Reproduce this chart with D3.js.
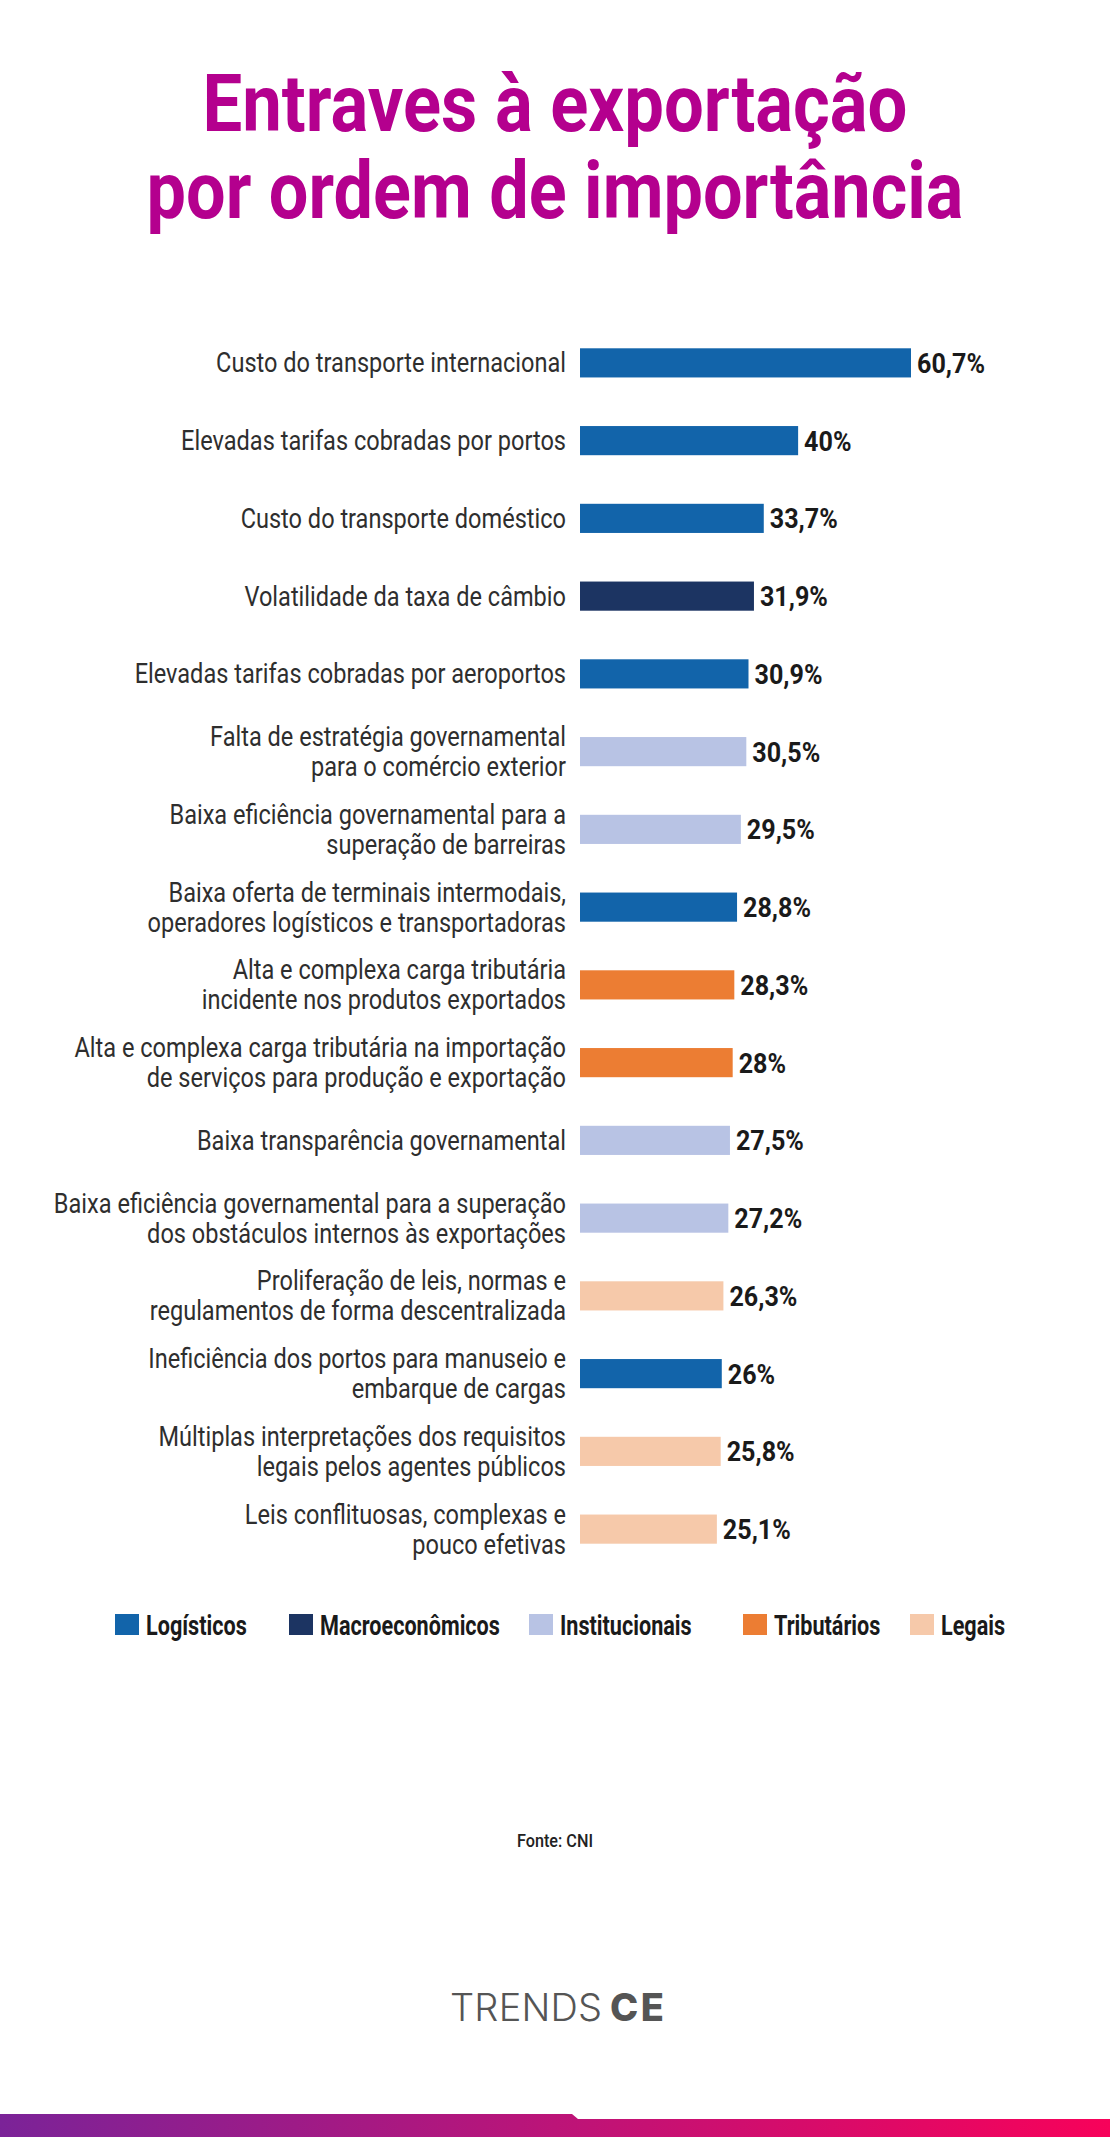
<!DOCTYPE html>
<html><head><meta charset="utf-8">
<script src="https://cdn.jsdelivr.net/npm/d3@7"></script>
<style>
html,body{margin:0;padding:0;background:#fff;}
svg{display:block;}
</style></head>
<body>
<svg id="chart" width="1110" height="2137"></svg>
<script>
// ---- data ----
const titleLines = ["Entraves à exportação", "por ordem de importância"];
const categories = [
  ["Custo do transporte internacional"],
  ["Elevadas tarifas cobradas por portos"],
  ["Custo do transporte doméstico"],
  ["Volatilidade da taxa de câmbio"],
  ["Elevadas tarifas cobradas por aeroportos"],
  ["Falta de estratégia governamental", "para o comércio exterior"],
  ["Baixa eficiência governamental para a", "superação de barreiras"],
  ["Baixa oferta de terminais intermodais,", "operadores logísticos e transportadoras"],
  ["Alta e complexa carga tributária", "incidente nos produtos exportados"],
  ["Alta e complexa carga tributária na importação", "de serviços para produção e exportação"],
  ["Baixa transparência governamental"],
  ["Baixa eficiência governamental para a superação", "dos obstáculos internos às exportações"],
  ["Proliferação de leis, normas e", "regulamentos de forma descentralizada"],
  ["Ineficiência dos portos para manuseio e", "embarque de cargas"],
  ["Múltiplas interpretações dos requisitos", "legais pelos agentes públicos"],
  ["Leis conflituosas, complexas e", "pouco efetivas"]
];
const values = [60.7, 40, 33.7, 31.9, 30.9, 30.5, 29.5, 28.8, 28.3, 28, 27.5, 27.2, 26.3, 26, 25.8, 25.1];
const groups = ["Logísticos","Logísticos","Logísticos","Macroeconômicos","Logísticos","Institucionais","Institucionais","Logísticos","Tributários","Tributários","Institucionais","Institucionais","Legais","Logísticos","Legais","Legais"];
const legendNames = ["Logísticos","Macroeconômicos","Institucionais","Tributários","Legais"];
const groupColors = ["#1264AA","#1C3462","#B8C3E4","#EC7D33","#F6C9AA"];
const sourceText = "Fonte: CNI";
const logoParts = ["TRENDS", "CE"];

// ---- drawing ----
const svg = d3.select("#chart");
const labelFont = "Roboto, 'Noto Sans', sans-serif";

function measure(text, size, weight, family) {
  const t = svg.append("text").attr("font-family", family || labelFont).attr("font-size", size)
    .attr("font-weight", weight).text(text);
  const w = t.node().getComputedTextLength();
  t.remove();
  return w;
}

// Title
const titleColor = "#B4008E";
const titleSize = 80;
const titleY = [131, 218];
const titleW = [705, 817];
titleLines.forEach((s, i) => {
  const k = titleW[i] / measure(s, titleSize, 700);
  svg.append("text")
    .attr("transform", `translate(555,${titleY[i]}) scale(${k},1)`)
    .attr("text-anchor", "middle")
    .attr("font-family", labelFont).attr("font-weight", 700)
    .attr("font-size", titleSize).attr("fill", titleColor)
    .text(s);
});

const color = d3.scaleOrdinal().domain(legendNames).range(groupColors);
const x = d3.scaleLinear().domain([0, 60.7]).range([580, 911]);
const y = d3.scaleBand().domain(d3.range(values.length)).range([324, 1568])
  .paddingInner(0.625).paddingOuter(0.3125);

const locale = d3.formatLocale({decimal: ",", thousands: ".", grouping: [3], currency: ["", ""]});
const fmt = locale.format("~f");

const labelSize = 27;
const kLab = 350 / measure(categories[0][0], labelSize, 400);
const valSize = 28;
const kVal = 68 / measure("60,7%", valSize, 700);

const rows = svg.append("g").selectAll("g").data(values).join("g");

rows.append("rect")
  .attr("x", x(0))
  .attr("y", (d, i) => y(i))
  .attr("width", d => x(d) - x(0))
  .attr("height", y.bandwidth())
  .attr("fill", (d, i) => color(groups[i]));

rows.each(function(d, i) {
  const cy = y(i) + y.bandwidth() / 2;
  const lines = categories[i];
  const g = d3.select(this);
  const lh = 30;
  lines.forEach((ln, j) => {
    const ly = cy + (j - (lines.length - 1) / 2) * lh + 9.5;
    g.append("text")
      .attr("transform", `translate(566,${ly}) scale(${kLab},1)`)
      .attr("text-anchor", "end")
      .attr("font-family", labelFont).attr("font-size", labelSize)
      .attr("fill", "#2e2e2e")
      .text(ln);
  });
  g.append("text")
    .attr("transform", `translate(${x(d) + 6},${cy + 10}) scale(${kVal},1)`)
    .attr("font-family", labelFont).attr("font-weight", 700).attr("font-size", valSize)
    .attr("fill", "#1a1a1a")
    .text(fmt(d) + "%");
});

// Legend
const legSq = [115, 289, 529, 743, 910];
const legY = 1625;
const legSize = 28;
const legTotal = d3.sum(legendNames, n => measure(n, legSize, 700));
const kLeg = 583 / legTotal;
const leg = svg.append("g").selectAll("g").data(legendNames).join("g");
leg.append("rect")
  .attr("x", (d, i) => legSq[i]).attr("y", legY - 11)
  .attr("width", 24).attr("height", 21)
  .attr("fill", d => color(d));
leg.append("text")
  .attr("transform", (d, i) => `translate(${legSq[i] + 31},${legY + 10}) scale(${kLeg},1)`)
  .attr("font-family", labelFont).attr("font-weight", 700).attr("font-size", legSize)
  .attr("fill", "#1a1a1a")
  .text(d => d);

// Source
const kSrc = 76 / measure(sourceText, 18, 500);
svg.append("text")
  .attr("transform", `translate(555,1847) scale(${kSrc},1)`)
  .attr("text-anchor", "middle")
  .attr("font-family", labelFont).attr("font-weight", 500).attr("font-size", 18)
  .attr("fill", "#222").text(sourceText);

// Logo
svg.append("text")
  .attr("x", 450).attr("y", 2021)
  .attr("font-family", "Inter, Roboto, sans-serif").attr("font-size", 38)
  .attr("font-weight", 300).attr("fill", "#555")
  .attr("textLength", 152).attr("lengthAdjust", "spacing")
  .text(logoParts[0]);
svg.append("text")
  .attr("x", 610).attr("y", 2021)
  .attr("font-family", "Inter, Roboto, sans-serif").attr("font-size", 38)
  .attr("font-weight", 800).attr("fill", "#555")
  .attr("textLength", 54).attr("lengthAdjust", "spacing")
  .text(logoParts[1]);

// Bottom gradient band
const defs = svg.append("defs");
const grad = defs.append("linearGradient").attr("id", "band").attr("x1", "0%").attr("x2", "100%");
grad.append("stop").attr("offset", "0%").attr("stop-color", "#7B2398");
grad.append("stop").attr("offset", "50%").attr("stop-color", "#BC1478");
grad.append("stop").attr("offset", "100%").attr("stop-color", "#F7025A");
svg.append("path")
  .attr("d", "M0,2114 L572,2114 L578,2119 L1110,2119 L1110,2137 L0,2137 Z")
  .attr("fill", "url(#band)");
</script>
</body></html>
